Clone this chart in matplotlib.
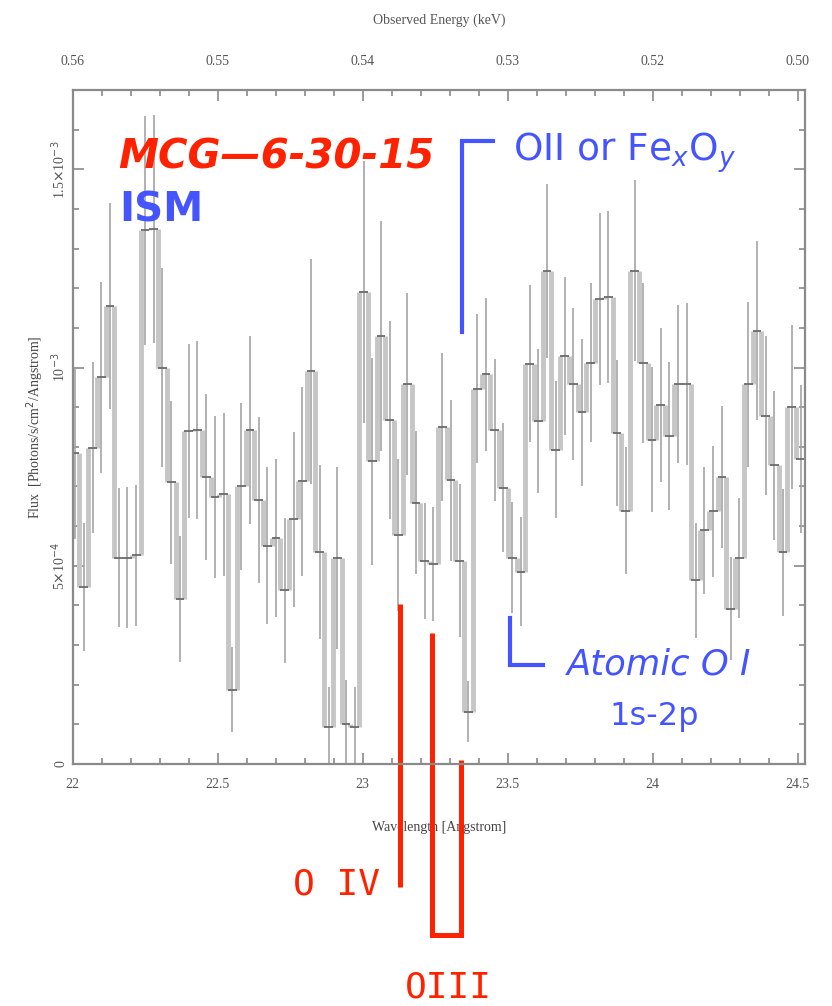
import numpy as np
import matplotlib
matplotlib.use("Agg")
import matplotlib.pyplot as plt
from matplotlib.ticker import MultipleLocator

# flux per bin, in units of 1e-4 photons/s/cm^2/Angstrom
flux = [7.84, 4.46, 7.98, 9.75, 11.56, 5.20, 5.20, 5.26, 13.46, 13.50,
        10.00, 7.10, 4.16, 8.40, 8.42, 7.24, 6.74, 6.80, 1.87, 7.00,
        8.42, 6.66, 5.50, 5.70, 4.38, 6.17, 7.13, 9.90, 5.34, 0.94,
        5.20, 1.02, 0.94, 11.90, 7.63, 10.80, 8.67, 5.78, 9.58, 6.59,
        5.12, 5.04, 8.50, 7.16, 5.12, 1.32, 9.47, 9.83, 8.42, 6.97,
        5.20, 4.85, 10.10, 8.65, 12.44, 7.93, 10.30, 9.58, 8.87, 10.12,
        11.73, 11.78, 8.35, 6.39, 12.44, 10.12, 8.18, 9.05, 8.28, 9.58,
        9.58, 4.63, 5.89, 6.37, 7.24, 3.91, 5.20, 9.58, 10.93, 8.79,
        7.54, 5.34, 9.00, 7.70]
flux_err = [2.17, 1.62, 2.15, 2.40, 2.60, 1.75, 1.78, 1.78, 2.88, 2.88,
            2.50, 2.05, 1.58, 2.20, 2.25, 2.10, 2.05, 2.05, 1.07, 2.10,
            2.37, 2.10, 1.98, 2.00, 1.83, 2.20, 2.38, 2.85, 2.20, 1.00,
            2.30, 1.10, 1.00, 3.30, 2.60, 2.90, 2.50, 1.92, 2.30, 1.80,
            1.47, 1.43, 1.87, 2.03, 1.93, 0.77, 1.88, 1.93, 1.79, 1.63,
            1.40, 1.38, 1.98, 1.82, 2.20, 1.73, 1.99, 1.91, 1.85, 2.00,
            2.16, 2.16, 1.85, 1.60, 2.28, 2.02, 1.83, 1.95, 1.87, 2.00,
            2.05, 1.45, 1.60, 1.65, 1.78, 1.30, 1.52, 2.08, 2.25, 2.00,
            1.88, 1.60, 2.07, 1.87]

# bin centres (Angstrom), first and last
wl_first, wl_last = 22.008, 24.51

wl_ticks = [22, 22.5, 23, 23.5, 24, 24.5]
wl_labels = ["22", "22.5", "23", "23.5", "24", "24.5"]
energy_labels = ["0.56", "0.55", "0.54", "0.53", "0.52", "0.50"]
flux_ticks = [0, 5e-4, 1e-3, 1.5e-3]
flux_labels = ["0", r"5$\times$10$^{-4}$", r"10$^{-3}$", r"1.5$\times$10$^{-3}$"]

wl = np.linspace(wl_first, wl_last, len(flux))
y = np.array(flux) * 1e-4
err = np.array(flux_err) * 1e-4
w = wl[1] - wl[0]

red = "#ff2200"
blue = "#4455ff"
axcol = "#8a8a8a"
txtcol = "#555555"

fig = plt.figure(figsize=(8.32, 10.06), dpi=100)
ax = fig.add_axes([0.0874, 0.2406, 0.8801, 0.6699])

# step connectors, error bars, value marks
edges = (wl[:-1] + wl[1:]) / 2
ax.vlines(edges, y[:-1], y[1:], colors="#c6c6c6", lw=3.5)
ax.vlines(wl, y - err, y + err, colors="#a4a4a4", lw=1.2)
ax.hlines(y, wl - w / 2, wl + w / 2, colors="#6a6a6a", lw=1.3)

ax.set_xlim(22, 24.525)
ax.set_ylim(0, 1.70e-3)

ax.set_xticks(wl_ticks, labels=wl_labels)
ax.set_yticks(flux_ticks, labels=flux_labels)
ax.xaxis.set_minor_locator(MultipleLocator(0.1))
ax.yaxis.set_minor_locator(MultipleLocator(1e-4))
ax.tick_params(which="both", direction="in", top=True, right=True, color=axcol,
               labelcolor=txtcol, labelsize=10)
ax.tick_params(which="major", length=8, width=1.2)
ax.tick_params(which="minor", length=4, width=1.2)
ax.tick_params(axis="x", pad=10)
for lab in ax.get_yticklabels():
    lab.set_rotation(90)
    lab.set_va("center")
for sp in ax.spines.values():
    sp.set_color(axcol)
    sp.set_linewidth(1.6)

for lab in ax.get_xticklabels() + ax.get_yticklabels():
    lab.set_family("Liberation Serif")

sec = ax.secondary_xaxis("top")
sec.set_xticks(wl_ticks, labels=energy_labels)
sec.tick_params(direction="in", length=0, labelcolor=txtcol, labelsize=10, pad=16)
for lab in sec.get_xticklabels():
    lab.set_family("Liberation Serif")
sec.spines["top"].set_visible(False)
sec.set_xlabel("Observed Energy (keV)", color=txtcol, fontsize=10,
               family="Liberation Serif", labelpad=22)

ax.set_xlabel("Wavelength [Angstrom]", color="#444444", fontsize=10,
              family="Liberation Serif", labelpad=22)
ax.set_ylabel(r"Flux  [Photons/s/cm$^2$/Angstrom]", color="#444444", fontsize=10,
              family="Liberation Serif", labelpad=2)

# annotations
ax.text(22.155, 1.531e-3, "MCG\u20146-30-15", color=red, fontsize=29,
        fontweight="bold", style="italic", va="center", ha="left")
ax.text(22.16, 1.397e-3, "ISM", color=blue, fontsize=29, fontweight="bold",
        va="center", ha="left")

ax.plot([23.449, 23.343, 23.343], [1.5715e-3, 1.5715e-3, 1.090e-3], color=blue,
        lw=3, solid_joinstyle="miter", clip_on=False)
ax.text(23.517, 1.543e-3, r"OII or Fe$_x$O$_y$", color=blue, fontsize=27,
        va="center", ha="left")

ax.plot([23.507, 23.507, 23.620], [0.368e-3, 0.250e-3, 0.250e-3], color=blue,
        lw=3, solid_joinstyle="miter", clip_on=False)
ax.text(23.703, 0.250e-3, "Atomic O I", color=blue, fontsize=25.5, style="italic",
        va="center", ha="left")
ax.text(23.852, 0.1185e-3, "1s-2p", color=blue, fontsize=23, va="center", ha="left")

ax.plot([23.130, 23.130], [0.4035e-3, -0.3095e-3], color=red, lw=3.6,
        solid_capstyle="butt", clip_on=False)
ax.plot([23.240, 23.240, 23.340, 23.340], [0.330e-3, -0.431e-3, -0.431e-3, 0.010e-3],
        color=red, lw=3.6, solid_joinstyle="miter", solid_capstyle="butt", clip_on=False)
ax.text(22.759, -0.305e-3, "O IV", color=red, fontsize=26, family="DejaVu Sans Mono",
        va="center", ha="left")
ax.text(23.145, -0.565e-3, "OIII", color=red, fontsize=26, family="DejaVu Sans Mono",
        va="center", ha="left")

fig.savefig("out.png", dpi=100)
